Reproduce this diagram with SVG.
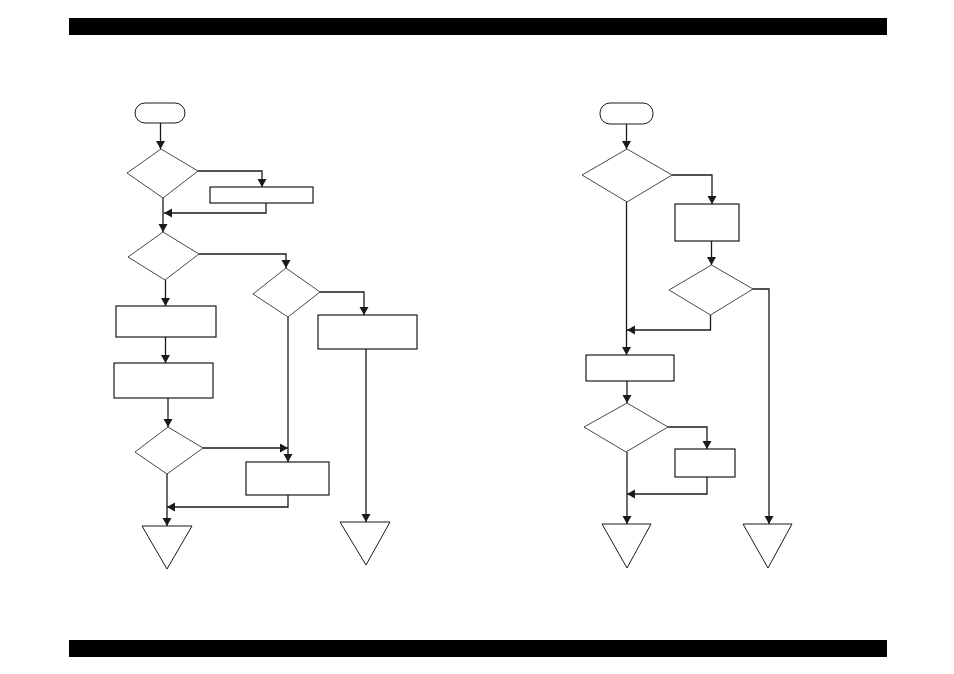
<svg xmlns="http://www.w3.org/2000/svg" width="954" height="674" viewBox="0 0 954 674">
<defs>
<marker id="ah" markerUnits="userSpaceOnUse" markerWidth="10" markerHeight="10" refX="8" refY="4.5" orient="auto">
<path d="M0,0 L8,4.5 L0,9 z" fill="#1a1a1a"/>
</marker>
<style>
.bar{fill:#000}
.box{fill:#fff;stroke:#1a1a1a;stroke-width:1.2}
.dia{fill:#fff;stroke:#1a1a1a;stroke-width:0.8}
.term{fill:#fff;stroke:#1a1a1a;stroke-width:1}
.tri{fill:#fff;stroke:#1a1a1a;stroke-width:1}
.c{fill:none;stroke:#1a1a1a;stroke-width:1.3;marker-end:url(#ah)}
</style>
</defs>
<rect width="954" height="674" fill="#fff"/>
<rect class="bar" x="69" y="18" width="818" height="17"/>
<rect class="bar" x="69" y="640" width="818" height="17"/>

<g id="connectors">
<path class="c" d="M160.5,123 V149"/>
<path class="c" d="M198,171 H262 V187"/>
<path class="c" d="M266,203 V213 H164"/>
<path class="c" d="M163,198 V232"/>
<path class="c" d="M199,254 H286 V268"/>
<path class="c" d="M320,292 H364 V315"/>
<path class="c" d="M366,349 V522"/>
<path class="c" d="M165.5,280 V306"/>
<path class="c" d="M165.5,337 V363"/>
<path class="c" d="M168,398 V427"/>
<path class="c" d="M203,448 H288"/>
<path class="c" d="M288,317 V462"/>
<path class="c" d="M288,495 V507 H167"/>
<path class="c" d="M167,474 V526"/>
<path class="c" d="M626.5,124 V149"/>
<path class="c" d="M672,175 H712 V204"/>
<path class="c" d="M711.5,241 V265"/>
<path class="c" d="M710.5,315 V330 H627"/>
<path class="c" d="M626.5,202 V355"/>
<path class="c" d="M753,289 H769 V524"/>
<path class="c" d="M627,381 V403"/>
<path class="c" d="M668,427 H707 V449"/>
<path class="c" d="M707,477 V494 H627"/>
<path class="c" d="M627,452 V524"/>
</g>

<g id="start1"><rect class="term" x="135" y="103" width="50" height="20" rx="10"/></g>
<g id="dec1"><polygon class="dia" points="127,173 161,149 198,171 163,198"/></g>
<g id="proc1"><rect class="box" x="210" y="187" width="103" height="16"/></g>
<g id="dec2"><polygon class="dia" points="128,257 163,232 199,254 165,280"/></g>
<g id="dec3"><polygon class="dia" points="253,294 286,268 320,292 288,317"/></g>
<g id="proc2"><rect class="box" x="318" y="315" width="99" height="34"/></g>
<g id="proc3"><rect class="box" x="116" y="306" width="100" height="31"/></g>
<g id="proc4"><rect class="box" x="114" y="363" width="99" height="35"/></g>
<g id="dec4"><polygon class="dia" points="135,452 168,427 203,448 167,474"/></g>
<g id="proc5"><rect class="box" x="246" y="462" width="83" height="33"/></g>
<g id="end1"><polygon class="tri" points="142,526 192,526 167,569"/></g>
<g id="end2"><polygon class="tri" points="340,522 390,522 366,565"/></g>

<g id="start2"><rect class="term" x="600" y="103" width="53" height="21" rx="10"/></g>
<g id="dec5"><polygon class="dia" points="582,175 627,149 672,175 627,202"/></g>
<g id="proc6"><rect class="box" x="675" y="204" width="64" height="37"/></g>
<g id="dec6"><polygon class="dia" points="669,290 711.5,265 753,289 710.5,315"/></g>
<g id="proc7"><rect class="box" x="586" y="355" width="88" height="26"/></g>
<g id="dec7"><polygon class="dia" points="584,427 627,403 668,427 626,452"/></g>
<g id="proc8"><rect class="box" x="675" y="449" width="60" height="28"/></g>
<g id="end3"><polygon class="tri" points="602,524 651,524 627,568"/></g>
<g id="end4"><polygon class="tri" points="743,524 792,524 768,568"/></g>
</svg>
